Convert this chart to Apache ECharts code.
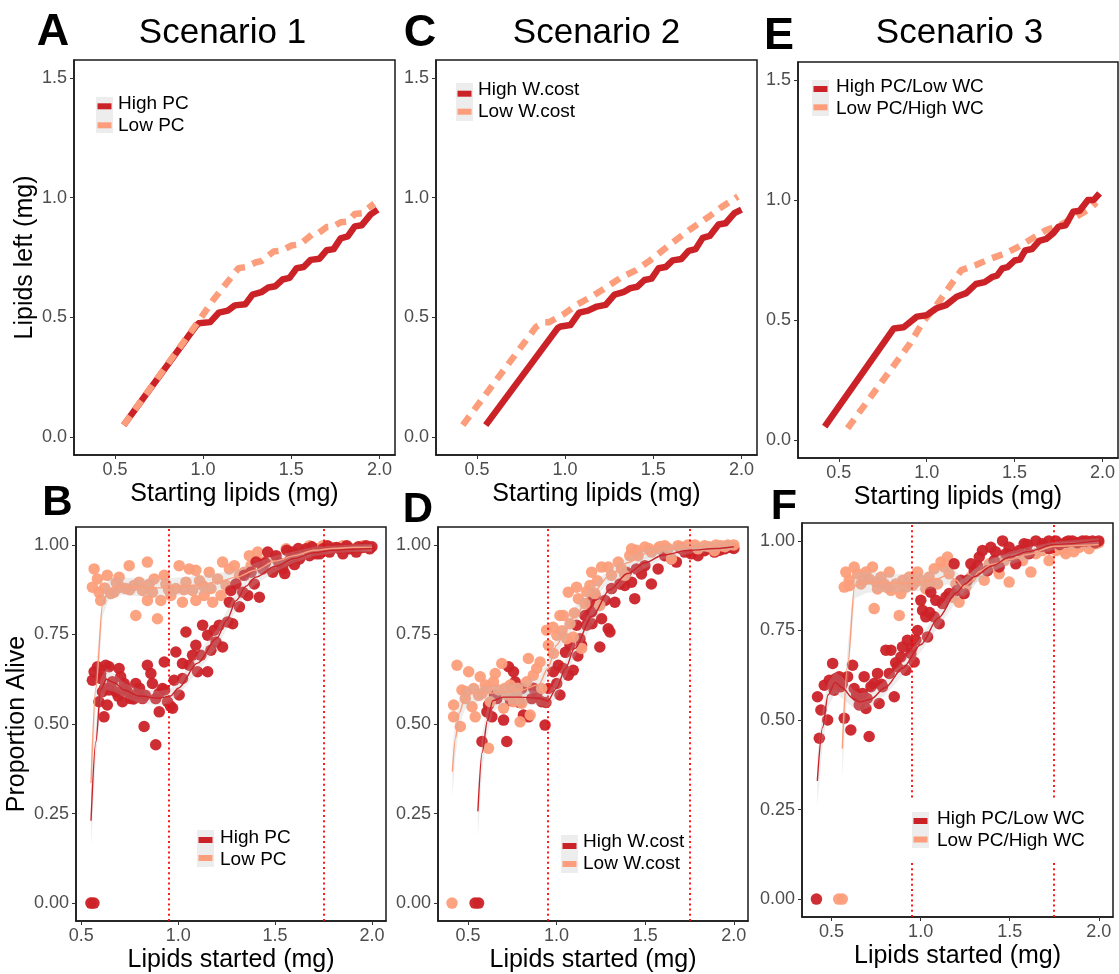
<!DOCTYPE html>
<html>
<head>
<meta charset="utf-8">
<script src="https://cdn.jsdelivr.net/npm/echarts@6/dist/echarts.min.js"></script>
<style>
  html, body { margin: 0; padding: 0; background: #fff; }
  #chart { width: 1119px; height: 974px; }
</style>
</head>
<body>
<div id="chart"></div>
<script>
// ---------- data ----------
const scenarioTitles = ['Scenario 1', 'Scenario 2', 'Scenario 3'];
const panelLetters = ['A', 'C', 'E', 'B', 'D', 'F'];
const legendLabels = [
  ['High PC', 'Low PC'],
  ['High W.cost', 'Low W.cost'],
  ['High PC/Low WC', 'Low PC/High WC']
];
const topTicksX = [0.5, 1.0, 1.5, 2.0];
const topTicksY = [0, 0.5, 1.0, 1.5];
const bottomTicksX = [0.5, 1.0, 1.5, 2.0];
const bottomTicksY = [0, 0.25, 0.5, 0.75, 1.0];
const cutoffs = [0.95, 1.75];

// Lipids left (mg) against starting lipids (mg)
const leftHighPC = [[0.55,0.05],[0.96,0.465],[0.975,0.475],[1.04,0.48],[1.09,0.52],[1.14,0.528],[1.18,0.55],[1.24,0.555],[1.28,0.595],[1.33,0.605],[1.37,0.625],[1.41,0.63],[1.45,0.658],[1.49,0.665],[1.53,0.705],[1.57,0.71],[1.61,0.74],[1.66,0.745],[1.7,0.78],[1.74,0.785],[1.78,0.83],[1.82,0.838],[1.86,0.88],[1.9,0.885],[1.95,0.93],[1.99,0.95]];
const leftLowPC = [[0.55,0.05],[0.98,0.49],[1.055,0.57],[1.13,0.64],[1.2,0.705],[1.24,0.71],[1.3,0.73],[1.33,0.735],[1.4,0.775],[1.45,0.78],[1.5,0.8],[1.55,0.805],[1.62,0.848],[1.65,0.85],[1.7,0.877],[1.74,0.88],[1.78,0.897],[1.82,0.9],[1.86,0.932],[1.9,0.935],[1.97,0.975]];
const leftHighWCost = [[0.55,0.05],[0.958,0.455],[0.975,0.462],[1.03,0.468],[1.08,0.52],[1.13,0.528],[1.18,0.545],[1.23,0.552],[1.28,0.595],[1.33,0.605],[1.37,0.622],[1.41,0.628],[1.45,0.656],[1.49,0.662],[1.53,0.705],[1.57,0.71],[1.61,0.738],[1.66,0.744],[1.7,0.778],[1.74,0.785],[1.78,0.832],[1.82,0.84],[1.87,0.888],[1.91,0.893],[1.96,0.935],[2.0,0.95]];
const leftLowWCost = [[0.42,0.05],[0.835,0.46],[0.88,0.48],[0.91,0.48],[0.996,0.515],[1.06,0.55],[1.157,0.59],[1.233,0.625],[1.318,0.667],[1.4,0.696],[1.48,0.737],[1.564,0.786],[1.65,0.835],[1.726,0.876],[1.81,0.918],[1.886,0.96],[1.98,1.005]];
const leftHighPCLowWC = [[0.42,0.056],[0.813,0.465],[0.869,0.47],[0.944,0.514],[1.0,0.52],[1.056,0.549],[1.11,0.562],[1.17,0.597],[1.225,0.612],[1.28,0.65],[1.33,0.658],[1.375,0.68],[1.4,0.685],[1.43,0.715],[1.46,0.72],[1.5,0.748],[1.53,0.752],[1.56,0.79],[1.6,0.796],[1.64,0.83],[1.68,0.838],[1.72,0.862],[1.75,0.889],[1.79,0.895],[1.833,0.951],[1.87,0.955],[1.917,1.0],[1.95,1.0],[1.983,1.028]];
const leftLowPCHighWC = [[0.55,0.049],[0.906,0.403],[0.98,0.493],[1.056,0.562],[1.13,0.639],[1.197,0.708],[1.28,0.729],[1.36,0.755],[1.45,0.778],[1.524,0.806],[1.6,0.84],[1.68,0.875],[1.76,0.896],[1.85,0.93],[1.93,0.965],[1.965,0.99]];

// Proportion alive against lipids started (mg)
const aliveHighPC = [[0.55,0],[0.565,0],[0.557,0.622],[0.566,0.646],[0.583,0.66],[0.6,0.627],[0.609,0.59],[0.591,0.562],[0.626,0.664],[0.643,0.66],[0.643,0.595],[0.634,0.553],[0.617,0.52],[0.66,0.618],[0.678,0.59],[0.695,0.655],[0.703,0.632],[0.721,0.613],[0.712,0.562],[0.738,0.59],[0.755,0.571],[0.781,0.613],[0.79,0.585],[0.816,0.571],[0.824,0.493],[0.841,0.664],[0.859,0.641],[0.867,0.613],[0.884,0.571],[0.884,0.442],[0.902,0.534],[0.919,0.599],[0.928,0.673],[0.945,0.562],[0.971,0.544],[0.979,0.622],[0.988,0.701],[1.005,0.581],[1.022,0.627],[1.022,0.669],[1.04,0.757],[1.057,0.664],[1.074,0.692],[1.091,0.72],[1.1,0.646],[1.117,0.692],[1.126,0.776],[1.152,0.646],[1.152,0.748],[1.169,0.706],[1.186,0.762],[1.195,0.729],[1.212,0.776],[1.229,0.715],[1.255,0.785],[1.264,0.84],[1.272,0.873],[1.281,0.78],[1.298,0.891],[1.316,0.827],[1.333,0.868],[1.341,0.915],[1.359,0.859],[1.376,0.924],[1.393,0.891],[1.402,0.952],[1.419,0.854],[1.436,0.933],[1.462,0.98],[1.488,0.924],[1.505,0.97],[1.54,0.933],[1.574,0.956],[1.591,0.98],[1.626,0.961],[1.66,0.989],[1.678,0.97],[1.712,0.975],[1.747,0.989],[1.781,0.98],[1.816,0.993],[1.85,0.975],[1.884,0.989],[1.919,0.98],[1.953,0.993],[1.988,0.989],[1.52,0.95],[1.56,0.985],[1.62,0.99],[1.69,0.995],[1.73,0.975],[1.77,0.998],[1.83,0.99],[1.87,0.998],[1.93,0.995],[1.97,0.998],[2.0,0.995],[1.45,0.95],[1.55,0.92],[1.6,0.945],[0.6,0.64],[0.62,0.6],[0.69,0.578],[0.73,0.6],[0.77,0.57],[0.8,0.6],[0.83,0.58],[0.9,0.585],[0.93,0.595],[0.96,0.55]];
const aliveLowPC = [[0.55,0],[0.566,0.933],[0.557,0.882],[0.583,0.905],[0.591,0.868],[0.6,0.845],[0.634,0.915],[0.652,0.864],[0.669,0.868],[0.695,0.91],[0.703,0.882],[0.747,0.942],[0.729,0.878],[0.772,0.887],[0.781,0.803],[0.798,0.896],[0.816,0.873],[0.841,0.952],[0.841,0.845],[0.867,0.868],[0.876,0.905],[0.893,0.794],[0.91,0.845],[0.928,0.915],[0.936,0.891],[0.962,0.859],[0.988,0.878],[1.005,0.942],[1.022,0.84],[1.04,0.896],[1.057,0.933],[1.074,0.873],[1.091,0.845],[1.091,0.929],[1.126,0.887],[1.134,0.859],[1.16,0.924],[1.169,0.878],[1.178,0.84],[1.203,0.905],[1.229,0.952],[1.221,0.859],[1.247,0.887],[1.264,0.933],[1.29,0.942],[1.316,0.915],[1.341,0.924],[1.367,0.97],[1.376,0.942],[1.41,0.98],[1.436,0.952],[1.505,0.961],[1.557,0.989],[1.591,0.97],[1.643,0.98],[1.678,0.998],[1.712,0.989],[1.747,0.998],[1.798,0.993],[1.85,0.998],[1.902,0.989],[1.953,0.998],[1.988,0.993],[0.62,0.88],[0.68,0.895],[0.75,0.875],[0.85,0.89],[0.95,0.875],[1.03,0.875],[1.11,0.9]];
const aliveHighWCost = [[0.54,0],[0.56,0],[0.579,0.451],[0.607,0.534],[0.616,0.553],[0.635,0.52],[0.663,0.571],[0.701,0.511],[0.719,0.451],[0.729,0.66],[0.757,0.646],[0.766,0.618],[0.776,0.59],[0.804,0.599],[0.813,0.525],[0.841,0.52],[0.86,0.571],[0.888,0.581],[0.916,0.562],[0.935,0.497],[0.954,0.599],[0.982,0.646],[1.001,0.613],[1.01,0.664],[1.019,0.581],[1.038,0.655],[1.066,0.636],[1.076,0.72],[1.094,0.65],[1.113,0.776],[1.132,0.738],[1.141,0.72],[1.16,0.803],[1.169,0.776],[1.188,0.84],[1.198,0.813],[1.216,0.859],[1.244,0.715],[1.254,0.794],[1.273,0.845],[1.291,0.766],[1.301,0.757],[1.31,0.878],[1.329,0.84],[1.357,0.891],[1.385,0.887],[1.394,0.924],[1.423,0.896],[1.441,0.85],[1.451,0.933],[1.479,0.919],[1.498,0.942],[1.535,0.891],[1.573,0.933],[1.61,0.97],[1.648,0.961],[1.676,0.952],[1.723,0.98],[1.76,0.975],[1.798,0.97],[1.835,0.984],[1.891,0.98],[1.948,0.989],[1.985,0.993],[1.7,0.99],[1.78,0.985],[1.85,0.99],[1.92,0.985],[1.97,0.995],[2.0,0.99],[0.65,0.58],[0.74,0.565],[0.79,0.56],[0.87,0.6],[0.94,0.56],[1.05,0.7],[1.12,0.69],[1.2,0.78]];
const aliveLowWCost = [[0.41,0],[0.419,0.52],[0.419,0.553],[0.438,0.664],[0.457,0.493],[0.466,0.595],[0.485,0.571],[0.504,0.646],[0.523,0.548],[0.532,0.599],[0.541,0.52],[0.569,0.632],[0.579,0.585],[0.598,0.609],[0.616,0.432],[0.626,0.562],[0.644,0.618],[0.654,0.641],[0.673,0.595],[0.691,0.669],[0.701,0.544],[0.719,0.581],[0.738,0.609],[0.757,0.562],[0.776,0.585],[0.794,0.506],[0.804,0.558],[0.832,0.618],[0.841,0.683],[0.851,0.525],[0.869,0.636],[0.888,0.655],[0.907,0.673],[0.916,0.599],[0.944,0.762],[0.954,0.72],[0.982,0.697],[1.001,0.748],[1.019,0.803],[1.038,0.803],[1.057,0.738],[1.066,0.868],[1.076,0.78],[1.094,0.743],[1.113,0.882],[1.123,0.85],[1.141,0.711],[1.16,0.836],[1.188,0.887],[1.198,0.924],[1.216,0.864],[1.244,0.831],[1.254,0.938],[1.291,0.938],[1.31,0.915],[1.348,0.952],[1.366,0.933],[1.385,0.915],[1.413,0.97],[1.423,0.989],[1.46,0.97],[1.498,0.994],[1.535,0.98],[1.573,0.989],[1.61,0.998],[1.648,0.961],[1.685,0.998],[1.741,1.0],[1.798,0.989],[1.835,0.998],[1.891,0.984],[1.929,0.998],[1.966,1.0],[2.0,1.0],[1.45,0.985],[1.52,0.99],[1.58,0.995],[1.63,0.99],[1.7,0.995],[1.78,1.0],[1.86,0.995],[1.9,1.0],[1.95,0.995],[0.49,0.59],[0.56,0.58],[0.61,0.6],[0.71,0.6],[0.78,0.6],[0.98,0.77],[1.03,0.76],[1.1,0.81],[1.17,0.87],[1.23,0.9]];
const aliveHighPCLowWC = [[0.415,0],[0.421,0.565],[0.431,0.449],[0.44,0.528],[0.459,0.597],[0.478,0.5],[0.487,0.611],[0.506,0.658],[0.515,0.583],[0.524,0.616],[0.543,0.621],[0.552,0.593],[0.571,0.505],[0.59,0.621],[0.608,0.472],[0.618,0.653],[0.627,0.588],[0.646,0.565],[0.655,0.542],[0.674,0.574],[0.683,0.621],[0.693,0.532],[0.711,0.454],[0.721,0.593],[0.739,0.602],[0.758,0.63],[0.767,0.546],[0.786,0.593],[0.805,0.695],[0.824,0.63],[0.833,0.695],[0.852,0.565],[0.87,0.648],[0.889,0.676],[0.898,0.704],[0.917,0.639],[0.926,0.723],[0.945,0.686],[0.964,0.662],[0.973,0.723],[0.983,0.75],[1.001,0.834],[1.011,0.806],[1.029,0.788],[1.039,0.732],[1.057,0.857],[1.076,0.788],[1.085,0.834],[1.104,0.769],[1.123,0.825],[1.142,0.843],[1.16,0.853],[1.188,0.936],[1.207,0.862],[1.226,0.89],[1.244,0.853],[1.263,0.89],[1.282,0.936],[1.301,0.917],[1.329,0.955],[1.347,0.973],[1.375,0.917],[1.394,0.982],[1.413,0.945],[1.441,0.927],[1.46,1.0],[1.478,0.964],[1.497,0.982],[1.534,0.936],[1.553,0.973],[1.581,0.992],[1.609,0.964],[1.647,1.0],[1.684,0.992],[1.721,0.978],[1.759,1.0],[1.815,0.996],[1.852,1.0],[1.909,1.0],[1.965,1.0],[2.0,1.0],[1.6,0.99],[1.68,0.985],[1.72,1.0],[1.78,0.99],[1.83,1.0],[1.88,0.995],[1.93,1.0],[1.98,0.995],[1.5,0.96],[1.42,0.97],[1.32,0.93],[0.5,0.6],[0.56,0.6],[0.64,0.57],[0.7,0.56],[0.78,0.6],[0.86,0.66],[0.95,0.7],[1.05,0.8]];
const aliveLowPCHighWC = [[0.54,0],[0.56,0],[0.571,0.871],[0.58,0.913],[0.599,0.89],[0.627,0.927],[0.646,0.908],[0.665,0.88],[0.693,0.913],[0.711,0.894],[0.73,0.927],[0.739,0.811],[0.758,0.866],[0.777,0.899],[0.796,0.88],[0.824,0.913],[0.833,0.862],[0.861,0.88],[0.88,0.792],[0.889,0.853],[0.917,0.871],[0.936,0.899],[0.955,0.876],[0.983,0.913],[1.001,0.89],[1.029,0.866],[1.048,0.899],[1.076,0.922],[1.095,0.88],[1.114,0.941],[1.132,0.927],[1.151,0.955],[1.16,0.908],[1.179,0.843],[1.198,0.88],[1.216,0.829],[1.254,0.871],[1.282,0.899],[1.31,0.913],[1.357,0.89],[1.385,0.936],[1.413,0.927],[1.441,0.908],[1.469,0.945],[1.497,0.885],[1.534,0.964],[1.572,0.945],[1.619,0.913],[1.647,0.964],[1.684,0.973],[1.721,0.945],[1.759,0.973],[1.815,0.964],[1.834,0.987],[1.89,0.982],[1.946,0.978],[1.983,0.992],[1.9,0.99],[1.95,0.99],[2.0,0.995],[1.8,0.975],[1.86,0.97],[0.6,0.875],[0.68,0.89],[0.75,0.885],[0.81,0.87],[0.9,0.89],[0.97,0.885],[1.05,0.88]];

// Loess fits: [x, fitted proportion, standard error]
const fitHighPC = [[0.55,0.23,0.07],[0.575,0.45,0.05],[0.6,0.595,0.035],[0.63,0.625,0.03],[0.67,0.615,0.025],[0.72,0.595,0.02],[0.8,0.578,0.02],[0.9,0.572,0.02],[0.96,0.578,0.02],[1.0,0.6,0.02],[1.1,0.67,0.025],[1.2,0.74,0.025],[1.25,0.79,0.025],[1.3,0.845,0.025],[1.35,0.885,0.02],[1.4,0.91,0.02],[1.5,0.94,0.015],[1.6,0.962,0.012],[1.7,0.978,0.01],[1.8,0.985,0.008],[1.9,0.988,0.008],[2.0,0.99,0.01]];
const fitLowPC = [[0.55,0.335,0.08],[0.575,0.6,0.05],[0.61,0.835,0.035],[0.64,0.875,0.03],[0.7,0.885,0.025],[0.8,0.882,0.025],[0.9,0.88,0.025],[1.0,0.884,0.025],[1.1,0.888,0.025],[1.2,0.896,0.025],[1.3,0.91,0.02],[1.4,0.93,0.02],[1.5,0.955,0.015],[1.6,0.97,0.012],[1.7,0.985,0.01],[1.8,0.99,0.008],[1.9,0.993,0.008],[2.0,0.993,0.01]];
const fitHighWCost = [[0.556,0.256,0.07],[0.58,0.42,0.05],[0.61,0.51,0.04],[0.64,0.565,0.03],[0.7,0.575,0.02],[0.8,0.575,0.02],[0.9,0.572,0.02],[0.95,0.565,0.02],[1.0,0.6,0.025],[1.05,0.655,0.025],[1.1,0.71,0.025],[1.2,0.8,0.025],[1.3,0.875,0.02],[1.4,0.92,0.018],[1.5,0.95,0.015],[1.6,0.972,0.012],[1.75,0.985,0.01],[1.9,0.99,0.008],[2.0,0.995,0.01]];
const fitLowWCost = [[0.412,0.367,0.07],[0.43,0.46,0.05],[0.45,0.53,0.04],[0.48,0.568,0.03],[0.52,0.585,0.025],[0.6,0.585,0.02],[0.7,0.59,0.02],[0.8,0.595,0.02],[0.9,0.61,0.02],[0.95,0.655,0.025],[1.0,0.72,0.025],[1.05,0.76,0.025],[1.1,0.8,0.025],[1.2,0.865,0.02],[1.3,0.915,0.018],[1.4,0.95,0.015],[1.5,0.975,0.012],[1.6,0.988,0.01],[1.75,0.995,0.008],[2.0,1.0,0.01]];
const fitHighPCLowWC = [[0.42,0.33,0.07],[0.45,0.48,0.05],[0.48,0.57,0.035],[0.52,0.605,0.03],[0.56,0.59,0.03],[0.62,0.56,0.025],[0.66,0.55,0.025],[0.72,0.558,0.02],[0.8,0.59,0.02],[0.9,0.645,0.02],[1.0,0.71,0.02],[1.1,0.785,0.025],[1.2,0.855,0.025],[1.25,0.88,0.02],[1.3,0.9,0.02],[1.4,0.93,0.018],[1.5,0.955,0.015],[1.6,0.97,0.012],[1.75,0.99,0.008],[2.0,1.0,0.008]];
const fitLowPCHighWC = [[0.56,0.42,0.08],[0.59,0.65,0.05],[0.63,0.875,0.035],[0.7,0.885,0.03],[0.8,0.883,0.025],[0.9,0.882,0.025],[1.0,0.885,0.025],[1.1,0.895,0.025],[1.15,0.905,0.025],[1.2,0.89,0.025],[1.24,0.868,0.025],[1.28,0.885,0.025],[1.33,0.915,0.02],[1.4,0.935,0.018],[1.5,0.948,0.015],[1.6,0.962,0.012],[1.75,0.985,0.01],[2.0,0.99,0.01]];

// ---------- styling & layout ----------
const FONT = '"Liberation Sans", Arial, Helvetica, sans-serif';
const DARK = '#CB2228';
const LIGHT = '#FC9E7B';
const TICK_GREY = '#4D4D4D';
const FRAME = '#1a1a1a';

// panel order: A, C, E (top row), B, D, F (bottom row)
const grids = [
  { left: 74,  top: 60,  width: 321, height: 395 },
  { left: 436, top: 60,  width: 321, height: 395 },
  { left: 798, top: 62,  width: 320, height: 396 },
  { left: 76,  top: 527, width: 310, height: 394 },
  { left: 438, top: 527, width: 310, height: 395 },
  { left: 802, top: 523, width: 311, height: 394 }
];
const xRanges = [[0.268, 2.088], [0.268, 2.088], [0.268, 2.088], [0.4725, 2.0725], [0.331, 2.08], [0.334, 2.08]];
const yRangeTop = [-0.075, 1.575];
const yRangeBottom = [-0.05, 1.05];

const chart = echarts.init(document.getElementById('chart'), null, { renderer: 'canvas' });

function makeXAxis(i) {
  const top = i < 3;
  const ticks = top ? topTicksX : bottomTicksX;
  return {
    gridIndex: i, type: 'value', position: 'bottom', min: xRanges[i][0], max: xRanges[i][1],
    axisLine: { show: true, onZero: false, lineStyle: { color: FRAME, width: 1.5 } },
    splitLine: { show: false },
    axisTick: { show: true, length: 4, customValues: ticks, lineStyle: { color: '#333', width: 1 } },
    axisLabel: { customValues: ticks, formatter: v => v.toFixed(1), color: TICK_GREY, fontSize: 18, fontFamily: FONT, margin: 6 },
    name: top ? 'Starting lipids (mg)' : 'Lipids started (mg)',
    nameLocation: 'middle', nameGap: 26,
    nameTextStyle: { fontSize: 25, color: '#000', fontFamily: FONT, lineHeight: 26 }
  };
}
function makeYAxis(i) {
  const top = i < 3;
  const ticks = top ? topTicksY : bottomTicksY;
  const rng = top ? yRangeTop : yRangeBottom;
  const ax = {
    gridIndex: i, type: 'value', position: 'left', min: rng[0], max: rng[1],
    axisLine: { show: true, onZero: false, lineStyle: { color: FRAME, width: 1.5 } },
    splitLine: { show: false },
    axisTick: { show: true, length: 4, customValues: ticks, lineStyle: { color: '#333', width: 1 } },
    axisLabel: { customValues: ticks, formatter: v => top ? v.toFixed(1) : v.toFixed(2), color: TICK_GREY, fontSize: 18, fontFamily: FONT, margin: 7 }
  };
  if (i === 0) Object.assign(ax, { name: 'Lipids left (mg)', nameLocation: 'middle', nameGap: 32,
    nameTextStyle: { fontSize: 25, color: '#000', fontFamily: FONT, lineHeight: 26 } });
  if (i === 3) Object.assign(ax, { name: 'Proportion Alive', nameLocation: 'middle', nameGap: 42,
    nameTextStyle: { fontSize: 25, color: '#000', fontFamily: FONT, lineHeight: 26 } });
  return ax;
}

function lineLeft(i, name, data, color, dashed, z) {
  return {
    type: 'line', name, xAxisIndex: i, yAxisIndex: i, data, symbol: 'none', silent: true, z,
    lineStyle: { color, width: 6.5, type: dashed ? [11, 8] : 'solid', cap: 'butt', join: 'round' }
  };
}
function points(i, name, data, color, z) {
  return {
    type: 'scatter', name, xAxisIndex: i, yAxisIndex: i, data, symbolSize: 11.5, silent: true, z,
    itemStyle: { color, opacity: 0.95 }
  };
}
function band(i, fit) {
  return {
    type: 'custom', xAxisIndex: i, yAxisIndex: i, silent: true, z: 6,
    data: [[fit[0][0], fit[0][1]]],
    renderItem: (params, api) => {
      const upper = fit.map(p => api.coord([p[0], p[1] + p[2]]));
      const lower = fit.slice().reverse().map(p => api.coord([p[0], p[1] - p[2]]));
      return { type: 'polygon', shape: { points: upper.concat(lower) },
               style: { fill: 'rgba(185,185,185,0.25)' } };
    }
  };
}
function fitLine(i, fit, color, withCutoffs) {
  const s = {
    type: 'line', xAxisIndex: i, yAxisIndex: i, silent: true, z: 7,
    data: fit.map(p => [p[0], p[1]]), symbol: 'none', smooth: 0.3, smoothMonotone: 'x',
    lineStyle: { color, width: 1.4 }
  };
  if (withCutoffs) {
    s.markLine = {
      silent: true, symbol: ['none', 'none'], label: { show: false }, animation: false,
      lineStyle: { color: '#FF0000', type: [2, 3.2], width: 1.8, opacity: 1 },
      emphasis: { disabled: true },
      data: cutoffs.map(v => ({ xAxis: v }))
    };
  }
  return s;
}

const series = [
  // A
  lineLeft(0, 'High PC', leftHighPC, DARK, false, 3),
  lineLeft(0, 'Low PC', leftLowPC, LIGHT, true, 4),
  // C
  lineLeft(1, 'High W.cost', leftHighWCost, DARK, false, 3),
  lineLeft(1, 'Low W.cost', leftLowWCost, LIGHT, true, 4),
  // E
  lineLeft(2, 'Low PC/High WC', leftLowPCHighWC, LIGHT, true, 3),
  lineLeft(2, 'High PC/Low WC', leftHighPCLowWC, DARK, false, 4),
  // B
  points(3, 'Low PC', aliveLowPC, LIGHT, 3),
  points(3, 'High PC', aliveHighPC, DARK, 4),
  band(3, fitLowPC), band(3, fitHighPC),
  fitLine(3, fitLowPC, LIGHT, false), fitLine(3, fitHighPC, DARK, true),
  // D
  points(4, 'High W.cost', aliveHighWCost, DARK, 3),
  points(4, 'Low W.cost', aliveLowWCost, LIGHT, 4),
  band(4, fitLowWCost), band(4, fitHighWCost),
  fitLine(4, fitLowWCost, LIGHT, false), fitLine(4, fitHighWCost, DARK, true),
  // F
  points(5, 'Low PC/High WC', aliveLowPCHighWC, LIGHT, 3),
  points(5, 'High PC/Low WC', aliveHighPCLowWC, DARK, 4),
  band(5, fitLowPCHighWC), band(5, fitHighPCLowWC),
  fitLine(5, fitLowPCHighWC, LIGHT, false), fitLine(5, fitHighPCLowWC, DARK, true)
];

// ---------- titles, panel letters and legends ----------
const titleSpots = [[222.5, 33.5], [596.5, 33.5], [959.5, 33.5]];
const letterSpots = [[53, 33, 45], [420, 33.5, 45], [779, 37, 45], [57.5, 503, 42], [418, 510, 42], [784, 507.5, 43]];
const legendSpots = [
  { bgX: 96,  bgY: 97,  bgH: 36, keyY: [106.3, 125.3], textX: 118, textY: [103.5, 125.3], set: 0 },
  { bgX: 456, bgY: 83,  bgH: 38, keyY: [93.7, 111.7],  textX: 478, textY: [89.7, 111.3],  set: 1 },
  { bgX: 812, bgY: 80,  bgH: 36, keyY: [89, 107.3],    textX: 836, textY: [86.7, 109.2],  set: 2 },
  { bgX: 197, bgY: 830, bgH: 37, keyY: [840, 858],     textX: 220, textY: [838, 859.7],   set: 0 },
  { bgX: 561, bgY: 835, bgH: 38, keyY: [846, 864],     textX: 583, textY: [842, 863.7],   set: 1 },
  { bgX: 912, bgY: 812, bgH: 36, keyY: [821, 839.5],   textX: 937, textY: [819, 841],     set: 2,
    cover: [906, 798, 202, 64] }
];

const graphics = [];
scenarioTitles.forEach((t, k) => graphics.push({
  type: 'text', z: 100, silent: true,
  style: { text: t, x: titleSpots[k][0], y: titleSpots[k][1], align: 'center', verticalAlign: 'middle',
           font: '35px ' + FONT, fill: '#000' }
}));
panelLetters.forEach((t, k) => graphics.push({
  type: 'text', z: 100, silent: true,
  style: { text: t, x: letterSpots[k][0], y: letterSpots[k][1], align: 'center', verticalAlign: 'middle',
           font: 'bold ' + letterSpots[k][2] + 'px ' + FONT, fill: '#000' }
}));
legendSpots.forEach(L => {
  if (L.cover) graphics.push({ type: 'rect', z: 100, silent: true,
    shape: { x: L.cover[0], y: L.cover[1], width: L.cover[2], height: L.cover[3] }, style: { fill: '#fff' } });
  graphics.push({ type: 'rect', z: 101, silent: true,
    shape: { x: L.bgX, y: L.bgY, width: 17, height: L.bgH }, style: { fill: '#EDEDED' } });
  [DARK, LIGHT].forEach((c, r) => {
    graphics.push({ type: 'rect', z: 102, silent: true,
      shape: { x: L.bgX + 1.5, y: L.keyY[r] - 3, width: 14, height: 6 }, style: { fill: c } });
    graphics.push({ type: 'text', z: 102, silent: true,
      style: { text: legendLabels[L.set][r], x: L.textX, y: L.textY[r], align: 'left', verticalAlign: 'middle',
               font: '19px ' + FONT, fill: '#000' } });
  });
});

chart.setOption({
  animation: false,
  backgroundColor: '#fff',
  textStyle: { fontFamily: FONT },
  grid: grids.map(g => Object.assign({ show: true, borderColor: FRAME, borderWidth: 1.5,
    backgroundColor: 'transparent', containLabel: false }, g)),
  xAxis: grids.map((g, i) => makeXAxis(i)),
  yAxis: grids.map((g, i) => makeYAxis(i)),
  series,
  graphic: { elements: graphics }
});
</script>
</body>
</html>
